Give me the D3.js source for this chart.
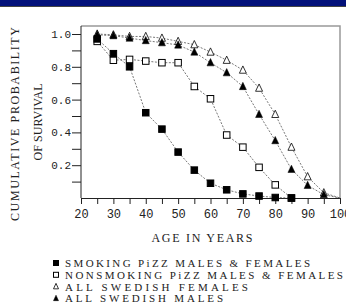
<!DOCTYPE html>
<html>
<head>
<meta charset="utf-8">
<script src="https://cdn.jsdelivr.net/npm/d3@7"></script>
<style>
  body { margin: 0; background: #fff; }
  svg { display: block; }
</style>
</head>
<body>
<svg id="chart" width="346" height="306"></svg>
<script>
// ages along the x axis
var ages = [25, 30, 35, 40, 45, 50, 55, 60, 65, 70, 75, 80, 85, 90, 95, 100];

var smokingPizz    = [0.97, 0.88, 0.80, 0.52, 0.42, 0.28, 0.17, 0.09, 0.05, 0.025, 0.012, 0.003, 0.0];
var nonsmokingPizz = [0.955, 0.84, 0.845, 0.835, 0.825, 0.825, 0.68, 0.605, 0.384, 0.31, 0.187, 0.08, 0.0];
var swedishFemales = [1.0, 0.995, 0.985, 0.985, 0.975, 0.955, 0.935, 0.89, 0.84, 0.78, 0.67, 0.51, 0.31, 0.13, 0.032, 0.0];
var swedishMales   = [0.995, 0.99, 0.975, 0.96, 0.947, 0.933, 0.89, 0.825, 0.764, 0.68, 0.51, 0.35, 0.175, 0.077, 0.02, 0.0];

var xTicks = [20, 30, 40, 50, 60, 70, 80, 90, 100];
var yTicks = [0.2, 0.4, 0.6, 0.8, 1.0];

var legendLabels = [
  "SMOKING PiZZ MALES & FEMALES",
  "NONSMOKING PiZZ MALES & FEMALES",
  "ALL SWEDISH FEMALES",
  "ALL SWEDISH MALES"
];

document.addEventListener("DOMContentLoaded", () => {
  var svg = d3.select("#chart");

  // navy strip at the top
  svg.append("rect").attr("x", 0).attr("y", 0).attr("width", 346).attr("height", 6).attr("fill", "#03117a");
  svg.append("rect").attr("x", 0).attr("y", 6).attr("width", 346).attr("height", 1).attr("fill", "#444");

  var x = d3.scaleLinear().domain([20, 100]).range([81, 340]);
  var y = d3.scaleLinear().domain([0, 1]).range([198, 34]);
  var top = 26;

  // grey frame on top and right
  svg.append("path")
    .attr("d", "M" + x(20) + "," + top + "H" + x(100) + "V" + y(0))
    .attr("fill", "none").attr("stroke", "#999").attr("stroke-width", 1.5);

  var tickFont = "'Liberation Mono', monospace";

  // x axis
  var xAxis = svg.append("g")
    .attr("transform", "translate(0," + y(0) + ")")
    .call(d3.axisBottom(x).tickValues(d3.range(20, 101, 5)).tickSize(6)
      .tickFormat((d) => xTicks.indexOf(d) >= 0 ? d : ""));
  xAxis.select(".domain").attr("stroke", "#222");
  xAxis.selectAll(".tick line").attr("stroke", "#222");
  xAxis.selectAll("text").attr("font-family", tickFont).attr("font-size", 12).attr("fill", "#222").attr("dy", "0.9em");

  // y axis
  var yAxis = svg.append("g")
    .attr("transform", "translate(" + x(20) + ",0)")
    .call(d3.axisLeft(y).tickValues(d3.range(1, 11).map((i) => i / 10)).tickSize(9).tickPadding(1)
      .tickFormat((d) => yTicks.some((t) => Math.abs(t - d) < 1e-6) ? d3.format(".1f")(d) : ""));
  yAxis.select(".domain").attr("d", "M0," + top + "V" + y(0)).attr("stroke", "#222");
  yAxis.selectAll(".tick line").attr("stroke", "#222");
  yAxis.selectAll("text").attr("font-family", tickFont).attr("font-size", 11).attr("fill", "#222");

  var titleFont = "'Liberation Serif', serif";

  svg.append("text")
    .attr("transform", "translate(19,124) rotate(-90)")
    .attr("text-anchor", "middle")
    .attr("font-family", titleFont).attr("font-size", 12).attr("fill", "#222")
    .attr("textLength", 194).attr("lengthAdjust", "spacing")
    .text("CUMULATIVE PROBABILITY");
  svg.append("text")
    .attr("transform", "translate(42,122) rotate(-90)")
    .attr("text-anchor", "middle")
    .attr("font-family", titleFont).attr("font-size", 12).attr("fill", "#222")
    .attr("textLength", 77).attr("lengthAdjust", "spacing")
    .text("OF SURVIVAL");

  svg.append("text")
    .attr("x", 202).attr("y", 242)
    .attr("text-anchor", "middle")
    .attr("font-family", titleFont).attr("font-size", 12).attr("fill", "#222")
    .attr("textLength", 101).attr("lengthAdjust", "spacing")
    .text("AGE IN YEARS");

  var line = d3.line().x((d) => x(d.age)).y((d) => y(d.p));

  function toPoints(values) {
    return values.map((v, i) => ({ age: ages[i], p: v }));
  }

  var series = [
    { values: swedishFemales, shape: "triUp", fill: "#fff" },
    { values: swedishMales, shape: "triUp", fill: "#000" },
    { values: nonsmokingPizz, shape: "square", fill: "#fff" },
    { values: smokingPizz, shape: "square", fill: "#000" }
  ];

  function drawMarker(g, shape, fill, size) {
    if (shape == "square") {
      g.append("rect")
        .attr("x", -size / 2).attr("y", -size / 2)
        .attr("width", size).attr("height", size)
        .attr("fill", fill).attr("stroke", "#000").attr("stroke-width", 1);
    } else {
      var h = size * 0.9;
      g.append("path")
        .attr("d", "M0," + (-h / 2 - 1) + "L" + (size / 2) + "," + (h / 2) + "L" + (-size / 2) + "," + (h / 2) + "Z")
        .attr("fill", fill).attr("stroke", "#000").attr("stroke-width", fill == "#000" ? 0.5 : 0.8);
    }
  }

  series.forEach((s) => {
    var pts = toPoints(s.values);
    svg.append("path")
      .datum(pts)
      .attr("d", line)
      .attr("fill", "none")
      .attr("stroke", "#555")
      .attr("stroke-width", 0.8)
      .attr("stroke-dasharray", "2,1.5");
    pts.filter((d) => d.age < 100).forEach((d) => {
      var g = svg.append("g").attr("transform", "translate(" + x(d.age) + "," + y(d.p) + ")");
      drawMarker(g, s.shape, s.fill, s.shape == "square" ? 6.5 : 7);
    });
  });

  // legend
  var legendShapes = [
    { shape: "square", fill: "#000" },
    { shape: "square", fill: "#fff" },
    { shape: "triUp", fill: "#fff" },
    { shape: "triUp", fill: "#000" }
  ];
  var legendWidths = [245, 278, 183, 158];
  legendLabels.forEach((label, i) => {
    var ly = 263 + i * 11.8;
    var g = svg.append("g").attr("transform", "translate(56," + ly + ")");
    drawMarker(g, legendShapes[i].shape, legendShapes[i].fill, 5);
    svg.append("text")
      .attr("x", 65).attr("y", ly + 4)
      .attr("font-family", titleFont).attr("font-size", 11).attr("fill", "#222")
      .attr("textLength", legendWidths[i]).attr("lengthAdjust", "spacing")
      .text(label);
  });
});
</script>
</body>
</html>
